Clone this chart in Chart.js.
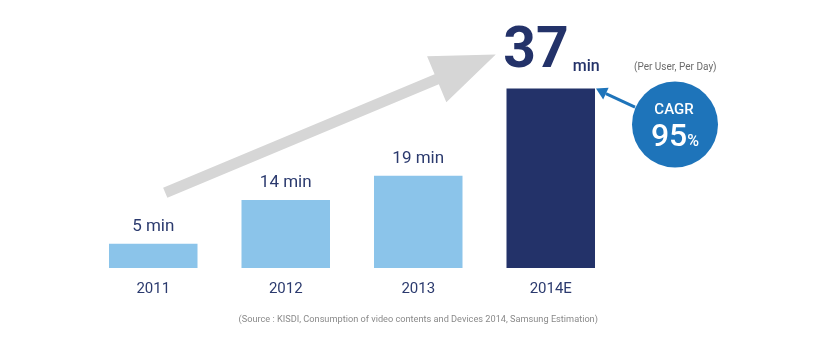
<!DOCTYPE html>
<html><head><meta charset="utf-8">
<script src="https://cdn.jsdelivr.net/npm/chart.js@4/dist/chart.umd.min.js"></script>
<style>html,body{margin:0;padding:0;background:#fff;overflow:hidden}#wrap{width:828px;height:348px}</style>
</head><body><div id="wrap"><canvas id="c" width="828" height="348"></canvas></div>
<script>
const categories = ['2011', '2012', '2013', '2014E'];
const minutes = [5, 14, 19, 37];
const unitLabel = 'min';
const cagrLabel = 'CAGR';
const cagrValue = '95';
const noteText = '(Per User, Per Day)';
const sourceText = '(Source : KISDI, Consumption of video contents and Devices 2014, Samsung Estimation)';

const NAVY = '#233269';
const LIGHT = '#8BC4EA';
const TEXT = '#2B3A6E';
const BLUE = '#1E74BA';
const GRAY = '#D6D6D6';
const FONT = 'Roboto, "Open Sans", sans-serif';

const deco = {
  id: 'deco',
  beforeDatasetsDraw(chart) {
    const ctx = chart.ctx, xs = chart.scales.x, ys = chart.scales.y;
    const tx = xs.getPixelForValue(0) + 12, ty = ys.getPixelForValue(minutes[0]) - 51;
    const hx = xs.getPixelForValue(3) - 55, hy = ys.getPixelForValue(minutes[3]) - 34;
    const dx = hx - tx, dy = hy - ty, L = Math.hypot(dx, dy);
    const ux = dx / L, uy = dy / L, nx = -uy, ny = ux;
    const sw = 5.5, hl = 64, hw = 25;
    const bx = hx - ux * hl, by = hy - uy * hl;
    ctx.save();
    ctx.fillStyle = GRAY;
    ctx.beginPath();
    ctx.moveTo(tx + nx * sw, ty + ny * sw);
    ctx.lineTo(bx + nx * sw, by + ny * sw);
    ctx.lineTo(bx + nx * hw, by + ny * hw);
    ctx.lineTo(hx, hy);
    ctx.lineTo(bx - nx * hw, by - ny * hw);
    ctx.lineTo(bx - nx * sw, by - ny * sw);
    ctx.lineTo(tx - nx * sw, ty - ny * sw);
    ctx.closePath();
    ctx.fill();
    ctx.restore();
  },
  afterDatasetsDraw(chart) {
    const ctx = chart.ctx, xs = chart.scales.x;
    const meta = chart.getDatasetMeta(0);
    ctx.save();
    meta.data.forEach((bar, i) => {
      const v = minutes[i];
      if (i < minutes.length - 1) {
        ctx.font = '17px ' + FONT;
        ctx.fillStyle = TEXT;
        ctx.textAlign = 'center';
        ctx.textBaseline = 'middle';
        ctx.fillText(v + ' ' + unitLabel, bar.x, bar.y - 17);
      } else {
        ctx.fillStyle = NAVY;
        ctx.textBaseline = 'alphabetic';
        ctx.textAlign = 'right';
        ctx.font = 'bold 57px ' + FONT;
        ctx.fillText(String(v), bar.x + 18, bar.y - 22);
        ctx.textAlign = 'left';
        ctx.font = '500 16px ' + FONT;
        ctx.fillText(unitLabel, bar.x + 22, bar.y - 18);

        const right = bar.x + bar.width / 2, top = bar.y;
        ctx.font = '10px ' + FONT;
        ctx.fillStyle = '#6b6b6b';
        ctx.textBaseline = 'middle';
        ctx.fillText(noteText, right + 39, top - 21);
        const cx = right + 80, cy = top + 36, r = 43;
        const ax = right + 40, ay = top + 18.5;
        const ddx = right - ax, ddy = top - ay, dl = Math.hypot(ddx, ddy);
        const ux = ddx / dl, uy = ddy / dl, nx = -uy, ny = ux;
        const hl = 12, hw = 6.5;
        const bx = right - ux * hl, by = top - uy * hl;
        ctx.strokeStyle = BLUE;
        ctx.lineWidth = 3;
        ctx.beginPath();
        ctx.moveTo(ax, ay);
        ctx.lineTo(bx, by);
        ctx.stroke();
        ctx.fillStyle = BLUE;
        ctx.beginPath();
        ctx.moveTo(right + 1, top);
        ctx.lineTo(bx + nx * hw, by + ny * hw);
        ctx.lineTo(bx - nx * hw, by - ny * hw);
        ctx.closePath();
        ctx.fill();
        ctx.beginPath();
        ctx.arc(cx, cy, r, 0, Math.PI * 2);
        ctx.fill();
        ctx.fillStyle = '#ffffff';
        ctx.textAlign = 'center';
        ctx.textBaseline = 'alphabetic';
        ctx.font = '500 15px ' + FONT;
        ctx.fillText(cagrLabel, cx - 1, cy - 10.5);
        ctx.font = '500 32px ' + FONT;
        const w95 = ctx.measureText(cagrValue).width;
        ctx.font = '500 16px ' + FONT;
        const wp = ctx.measureText('%').width;
        const start = cx - (w95 + wp) / 2;
        ctx.textAlign = 'left';
        ctx.font = '500 32px ' + FONT;
        ctx.fillText(cagrValue, start, cy + 21);
        ctx.font = '500 16px ' + FONT;
        ctx.fillText('%', start + w95, cy + 21);
      }
    });
    ctx.font = '9.2px ' + FONT;
    ctx.fillStyle = '#8a8a8a';
    ctx.textAlign = 'center';
    ctx.textBaseline = 'middle';
    ctx.fillText(sourceText, xs.getPixelForValue(2), 320);
    ctx.restore();
  }
};

new Chart(document.getElementById('c'), {
  type: 'bar',
  data: {
    labels: categories,
    datasets: [{
      data: minutes,
      backgroundColor: [LIGHT, LIGHT, LIGHT, NAVY],
      borderWidth: 0,
      barPercentage: 0.668,
      categoryPercentage: 1
    }]
  },
  options: {
    responsive: false,
    devicePixelRatio: 1,
    animation: false,
    layout: { padding: { left: 87, right: 211, top: 74, bottom: 38 } },
    plugins: { legend: { display: false }, tooltip: { enabled: false } },
    scales: {
      x: {
        grid: { display: false, drawTicks: false, tickLength: 0 },
        border: { display: false },
        ticks: { color: TEXT, font: { family: FONT, size: 15 }, padding: 12 }
      },
      y: { display: false, min: 0, max: 40 }
    }
  },
  plugins: [deco]
});
</script>
</body></html>
